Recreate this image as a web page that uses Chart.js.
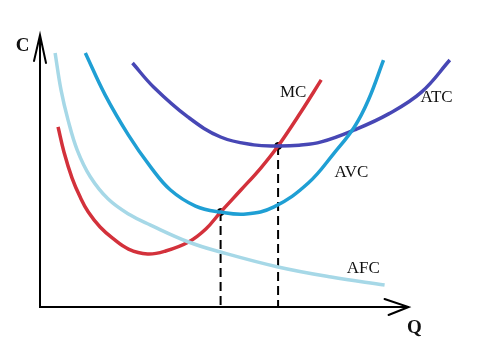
<!DOCTYPE html>
<html>
<head>
<meta charset="utf-8">
<script src="https://cdn.jsdelivr.net/npm/chart.js@4/dist/chart.umd.min.js"></script>
<style>
  html, body { margin: 0; padding: 0; background: #fff; }
  #wrap { width: 477px; height: 361px; position: relative; }
</style>
</head>
<body>
<div id="wrap"><canvas id="myChart"></canvas></div>
<script>
// cost curves (Q across, C up, arrows sit at 10)
var afcQ = [0.41, 0.57, 0.76, 1.01, 1.36, 1.85, 2.45, 3.00, 4.03, 4.90, 6.46, 7.90, 9.35];
var afcC = [9.34, 7.98, 6.88, 5.77, 4.80, 3.97, 3.38, 3.01, 2.39, 2.02, 1.47, 1.10, 0.81];

var avcQ = [1.23, 1.77, 2.40, 3.00, 3.54, 4.22, 4.90, 5.59, 6.35, 7.28, 7.98, 8.53, 8.91, 9.32];
var avcC = [9.34, 7.79, 6.32, 5.15, 4.30, 3.71, 3.49, 3.42, 3.68, 4.56, 5.66, 6.62, 7.61, 9.08];

var atcQ = [2.51, 3.08, 4.01, 4.90, 5.80, 6.46, 7.03, 7.63, 8.53, 9.46, 10.35, 11.12];
var atcC = [8.97, 8.09, 6.99, 6.25, 5.96, 5.92, 5.95, 6.07, 6.51, 7.10, 7.90, 9.08];

var mcQ = [0.49, 0.65, 0.87, 1.09, 1.31, 1.63, 1.96, 2.40, 2.92, 3.41, 4.03, 4.50, 4.90, 5.45, 5.99, 6.46, 7.08, 7.63];
var mcC = [6.62, 5.70, 4.74, 4.04, 3.49, 2.94, 2.54, 2.13, 1.95, 2.06, 2.39, 2.87, 3.49, 4.30, 5.11, 5.92, 7.17, 8.35];

// MC crosses AVC and ATC here
var crossQ = [4.90, 6.46];
var crossC = [3.49, 5.92];

var axisMax = 10;

function pts(xs, ys) {
    return xs.map(function (x, i) { return { x: x, y: ys[i] }; });
}

function curve(label, xs, ys, color) {
    return {
        label: label,
        data: pts(xs, ys),
        borderColor: color,
        borderWidth: 3.5,
        pointRadius: 0,
        tension: 0.4,
        fill: false,
        clip: false
    };
}

var dashed = crossQ.map(function (q, i) {
    return {
        label: 'drop' + i,
        data: [{ x: q, y: crossC[i] }, { x: q, y: 0 }],
        borderColor: '#000',
        borderWidth: 2,
        borderDash: [9, 5],
        pointRadius: 0,
        fill: false
    };
});

// text and axes drawn on top
var labels = [
    { text: 'C', q: -0.47, c: 9.6, bold: true, size: 19 },
    { text: 'Q', q: 10.16, c: -0.77, bold: true, size: 19 },
    { text: 'MC', q: 6.87, c: 7.9, size: 17 },
    { text: 'ATC', q: 10.76, c: 7.7, size: 17 },
    { text: 'AVC', q: 8.45, c: 4.93, size: 17 },
    { text: 'AFC', q: 8.77, c: 1.4, size: 17 }
];

var axesPlugin = {
    id: 'axes',
    afterDatasetsDraw: function (chart) {
        var c = chart.ctx, x = chart.scales.x, y = chart.scales.y;
        var x0 = x.getPixelForValue(0), y0 = y.getPixelForValue(0);
        var xe = x.getPixelForValue(axisMax), ye = y.getPixelForValue(axisMax);
        c.save();
        c.strokeStyle = '#000';
        c.lineWidth = 2;
        c.lineCap = 'round';
        c.beginPath();
        c.moveTo(x0, ye); c.lineTo(x0, y0); c.lineTo(xe, y0);
        // arrow heads
        c.moveTo(x0 - 6, ye + 26); c.lineTo(x0, ye); c.lineTo(x0 + 6, ye + 28);
        c.moveTo(xe - 24, y0 - 8); c.lineTo(xe, y0); c.lineTo(xe - 20, y0 + 8);
        c.stroke();

        c.textAlign = 'center';
        c.textBaseline = 'middle';
        labels.forEach(function (l) {
            c.font = (l.bold ? 'bold ' : '') + l.size + 'px "Liberation Serif", serif';
            c.fillStyle = '#111';
            c.fillText(l.text, x.getPixelForValue(l.q), y.getPixelForValue(l.c));
        });
        c.restore();
    }
};

var ctx = document.getElementById('myChart');
new Chart(ctx, {
    type: 'line',
    data: {
        datasets: [
            curve('AFC', afcQ, afcC, '#a6d8e7'),
            curve('AVC', avcQ, avcC, '#1f9fd4'),
            curve('ATC', atcQ, atcC, '#4747b5'),
            curve('MC', mcQ, mcC, '#d3313b'),
            dashed[0],
            dashed[1],
            {
                label: 'cross',
                data: pts(crossQ, crossC),
                showLine: false,
                pointRadius: 3.5,
                pointBackgroundColor: '#000',
                pointBorderColor: '#000'
            }
        ]
    },
    options: {
        responsive: true,
        maintainAspectRatio: false,
        animation: false,
        events: [],
        layout: { padding: { left: 40, right: 15, top: 35, bottom: 54 } },
        plugins: {
            legend: { display: false },
            tooltip: { enabled: false }
        },
        scales: {
            x: { type: 'linear', min: 0, max: 11.45, display: false },
            y: { type: 'linear', min: 0, max: 10, display: false }
        }
    },
    plugins: [axesPlugin]
});
</script>
</body>
</html>
